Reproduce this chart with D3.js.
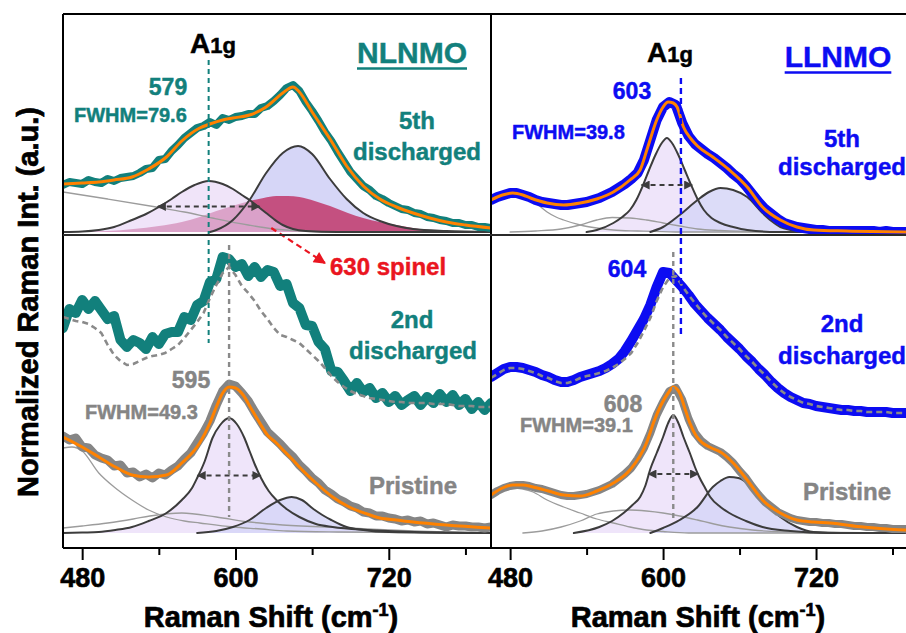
<!DOCTYPE html>
<html><head><meta charset="utf-8">
<script src="https://cdn.jsdelivr.net/npm/d3@7"></script>
<style>
html,body{margin:0;padding:0;background:#fff;}
svg{display:block;font-family:"Liberation Sans",Arial,Helvetica,sans-serif;font-weight:bold;}
</style></head><body>
<svg id="chart" width="906" height="633"></svg>
<script>
// ---------- data ----------
const xDomain = [465, 800];
const majorTicks = [480, 600, 720];
const minorTicks = [540, 660, 780];

// Raman shift grid of the measured spectra (cm-1)
const shift = [465,470,475,480,485,490,495,500,505,510,
  515,520,525,530,535,540,545,550,555,560,
  565,570,575,580,585,590,595,600,605,610,
  615,620,625,630,635,640,645,650,655,660,
  665,670,675,680,685,690,695,700,705,710,
  715,720,725,730,735,740,745,750,755,760,
  765,770,775,780,785,790,795,800];

// NLNMO, 5th discharged (measured)
const nl5th = [.47,.50,.49,.48,.52,.50,.49,.53,.51,.54,
  .55,.56,.59,.63,.64,.72,.73,.81,.87,.94,
  .99,1.04,1.06,1.10,1.07,1.14,1.12,1.15,1.16,1.18,
  1.18,1.24,1.26,1.31,1.37,1.44,1.47,1.41,1.30,1.21,
  1.11,1.00,.91,.80,.70,.60,.53,.46,.42,.36,
  .33,.29,.26,.23,.22,.19,.18,.15,.14,.12,
  .11,.09,.09,.07,.07,.05,.05,.04];
// NLNMO, 2nd discharged (measured) and its reference trace
const nl2nd = [2.05,2.24,2.20,2.33,2.24,2.32,2.23,2.14,2.17,1.93,
  1.86,1.93,1.90,1.84,1.96,1.89,1.99,2.01,2.01,2.16,
  2.13,2.28,2.32,2.51,2.54,2.76,2.74,2.66,2.69,2.57,
  2.66,2.56,2.63,2.61,2.47,2.49,2.30,2.25,2.08,2.07,
  1.91,1.84,1.62,1.61,1.52,1.42,1.50,1.41,1.45,1.35,
  1.40,1.31,1.37,1.28,1.33,1.37,1.28,1.36,1.30,1.39,
  1.31,1.38,1.28,1.34,1.24,1.31,1.23,1.30];
const nl2ndRef = [2.16,2.14,2.12,2.11,2.09,2.05,2.00,1.88,1.78,1.72,
  1.68,1.69,1.72,1.75,1.77,1.78,1.80,1.84,1.88,1.95,
  2.03,2.11,2.20,2.35,2.48,2.60,2.66,2.58,2.47,2.40,
  2.32,2.22,2.14,2.05,1.98,1.96,1.93,1.90,1.84,1.78,
  1.72,1.65,1.57,1.51,1.46,1.42,1.39,1.37,1.35,1.34,
  1.33,1.32,1.31,1.31,1.30,1.30,1.30,1.30,1.29,1.29,
  1.29,1.28,1.27,1.27,1.27,1.26,1.26,1.26];
// NLNMO, pristine (measured)
const nlPristine = [.97,.93,.95,.86,.85,.78,.75,.73,.67,.68,
  .60,.61,.56,.59,.55,.60,.58,.63,.67,.74,
  .80,.90,1.00,1.12,1.28,1.42,1.49,1.47,1.40,1.32,
  1.21,1.11,1.01,.95,.89,.82,.76,.68,.62,.55,
  .50,.43,.39,.34,.31,.27,.25,.21,.20,.17,
  .17,.15,.14,.12,.13,.11,.12,.09,.10,.08,
  .06,.08,.07,.07,.06,.06,.05,.06];

// LLNMO, 5th discharged (measured)
const ll5th = [.32,.35,.37,.39,.39,.37,.35,.32,.30,.29,
  .28,.27,.27,.28,.29,.30,.32,.34,.37,.40,
  .44,.48,.53,.59,.72,.92,1.12,1.25,1.30,1.27,
  1.09,.96,.88,.83,.78,.74,.69,.64,.58,.53,
  .46,.38,.30,.23,.18,.13,.09,.07,.05,.04,
  .03,.02,.02,.01,.01,.01,.01,.01,.01,.01,
  .01,0,.01,0,0,0,0,0];
// LLNMO, 2nd discharged (measured) and its reference trace
const ll2nd = [1.56,1.60,1.64,1.66,1.66,1.65,1.63,1.61,1.58,1.56,
  1.53,1.51,1.51,1.53,1.56,1.58,1.60,1.62,1.65,1.69,
  1.74,1.82,1.92,2.03,2.14,2.28,2.46,2.61,2.60,2.53,
  2.46,2.38,2.29,2.22,2.15,2.09,2.03,1.96,1.90,1.84,
  1.77,1.71,1.64,1.58,1.51,1.45,1.40,1.36,1.33,1.30,
  1.29,1.27,1.26,1.25,1.24,1.23,1.23,1.22,1.22,1.21,
  1.21,1.21,1.21,1.20,1.20,1.20,1.20,1.20];
const ll2ndRef = [1.55,1.59,1.63,1.65,1.65,1.64,1.62,1.60,1.57,1.55,
  1.52,1.50,1.50,1.52,1.55,1.57,1.58,1.60,1.62,1.65,
  1.69,1.74,1.80,1.90,2.02,2.15,2.32,2.46,2.55,2.57,
  2.47,2.38,2.30,2.22,2.15,2.09,2.03,1.96,1.90,1.84,
  1.77,1.71,1.64,1.58,1.51,1.45,1.40,1.36,1.33,1.30,
  1.29,1.27,1.26,1.25,1.24,1.23,1.23,1.22,1.22,1.21,
  1.21,1.21,1.21,1.20,1.20,1.20,1.20,1.20];
// LLNMO, pristine (measured)
const llPristine = [.38,.42,.45,.47,.48,.48,.47,.45,.44,.42,
  .40,.38,.37,.37,.38,.39,.41,.43,.46,.49,
  .54,.59,.65,.74,.85,1.00,1.18,1.31,1.42,1.45,
  1.33,1.14,1.00,.92,.87,.84,.81,.76,.70,.62,
  .55,.46,.38,.31,.26,.21,.18,.15,.13,.12,
  .11,.11,.10,.10,.09,.09,.08,.07,.07,.06,
  .06,.05,.05,.04,.04,.04,.03,.03];

// Fitted envelopes [shift, intensity]
const nl5thFit = [[465,.48],[480,.49],[493,.50],[505,.52],[519,.55],[532,.63],[546,.75],[558,.91],[572,1.04],[580,1.08],[590,1.12],[598,1.14],[611,1.17],[624,1.25],[637,1.39],[645,1.45],[650,1.40],[660,1.20],[674,.93],[687,.66],[700,.46],[713,.33],[726,.25],[739,.19],[752,.14],[765,.10],[780,.07],[800,.04]];
const nlPristineFit = [[465,.96],[480,.86],[493,.76],[506,.66],[519,.58],[532,.56],[546,.58],[558,.70],[572,.90],[580,1.10],[585,1.26],[590,1.40],[595,1.46],[600,1.45],[606,1.38],[612,1.25],[619,1.10],[625,.98],[632,.90],[638,.82],[645,.73],[650,.66],[663,.50],[676,.36],[689,.26],[703,.19],[713,.15],[726,.13],[739,.11],[765,.08],[800,.05]];
const ll5thFit = [[465,.32],[474,.37],[482,.39],[490,.37],[496,.34],[509,.29],[522,.27],[535,.29],[548,.33],[561,.40],[574,.52],[582,.62],[588,.85],[595,1.12],[600,1.25],[604,1.30],[608,1.29],[611,1.25],[616,1.05],[622,.93],[627,.86],[639,.75],[652,.62],[666,.45],[678,.25],[692,.12],[705,.05],[718,.02],[744,.01],[800,0]];
const llPristineFit = [[465,.38],[474,.45],[482,.48],[490,.48],[498,.46],[510,.42],[522,.38],[535,.37],[548,.42],[561,.50],[574,.63],[587,.90],[593,1.12],[598,1.27],[604,1.40],[608,1.46],[613,1.40],[617,1.25],[621,1.10],[626,.97],[631,.90],[638,.85],[645,.81],[655,.70],[666,.53],[678,.33],[692,.20],[705,.13],[718,.11],[731,.10],[757,.06],[790,.03],[800,.03]];

// Fitted components [shift, intensity]
const nl5thBg = [[465,.40],[500,.33],[538,.25],[560,.20],[582,.14],[610,.07],[630,.03],[650,.01],[680,0],[800,0]];
const nl5thA1g = [[465,0],[480,.005],[493,.02],[505,.05],[519,.12],[530,.18],[540,.25],[550,.33],[558,.40],[568,.47],[579,.51],[590,.48],[598,.43],[605,.37],[611,.32],[618,.25],[624,.19],[630,.13],[637,.07],[645,.03],[655,.01],[680,0],[800,0]];
const nl5thHigh = [[580,0],[585,.02],[598,.12],[611,.32],[624,.59],[637,.79],[649,.86],[660,.78],[674,.53],[687,.33],[700,.19],[713,.11],[726,.06],[739,.03],[765,.01],[800,0]];
const nl5thSpinel = [[465,0],[480,.003],[500,.01],[520,.03],[540,.06],[558,.10],[572,.15],[585,.21],[600,.27],[611,.31],[622,.34],[632,.36],[641,.36],[650,.35],[662,.31],[674,.26],[688,.19],[700,.14],[713,.10],[726,.07],[739,.04],[752,.02],[770,.01],[800,0]];

const nlPrBg1 = [[465,.85],[472,.86],[480,.82],[493,.60],[505,.46],[519,.33],[532,.23],[546,.16],[560,.12],[572,.10],[598,.06],[620,.04],[640,.02],[680,.01],[800,0]];
const nlPrBg2 = [[465,.05],[480,.07],[500,.10],[520,.14],[533,.17],[558,.20],[585,.16],[611,.11],[637,.08],[689,.05],[740,.02],[800,0]];
const nlPrA1g = [[465,0],[480,.005],[493,.01],[506,.03],[519,.06],[532,.12],[546,.20],[558,.33],[566,.45],[570,.55],[576,.72],[582,.95],[588,1.08],[595,1.15],[601,1.09],[607,.95],[611,.82],[615,.69],[620,.55],[626,.42],[632,.33],[640,.24],[650,.16],[663,.09],[676,.06],[703,.03],[740,.01],[800,0]];
const nlPrHigh = [[570,0],[585,.02],[598,.06],[611,.13],[624,.25],[635,.33],[644,.36],[652,.33],[661,.24],[668,.18],[675,.13],[687,.06],[700,.03],[720,.01],[800,0]];

const ll5thBg1 = [[465,.31],[475,.35],[483,.37],[490,.36],[497,.32],[503,.26],[509,.20],[516,.15],[522,.12],[535,.07],[548,.04],[561,.02],[580,.01],[610,0],[800,0]];
const ll5thBg2 = [[480,0],[500,.01],[520,.03],[535,.07],[548,.12],[560,.145],[574,.14],[587,.12],[600,.09],[613,.06],[627,.03],[645,.015],[670,.005],[800,0]];
const ll5thA1g = [[540,0],[548,.02],[561,.09],[568,.15],[574,.22],[579,.32],[584,.46],[589,.62],[594,.77],[599,.89],[603,.94],[607,.89],[612,.77],[617,.62],[622,.47],[627,.33],[632,.22],[638,.14],[645,.09],[655,.05],[666,.02],[690,0],[800,0]];
const ll5thHigh = [[590,0],[600,.05],[613,.17],[627,.32],[636,.40],[645,.44],[655,.42],[666,.35],[678,.19],[685,.11],[692,.05],[700,.02],[710,0],[800,0]];

const llPrBg1 = [[465,.36],[475,.43],[482,.45],[490,.44],[498,.41],[509,.33],[522,.26],[535,.20],[548,.14],[561,.10],[574,.06],[587,.03],[600,.015],[620,0],[800,0]];
const llPrBg2 = [[490,0],[505,.02],[520,.06],[535,.12],[548,.19],[561,.22],[574,.23],[587,.22],[600,.20],[613,.17],[627,.13],[640,.09],[652,.06],[670,.03],[700,.01],[800,0]];
const llPrA1g = [[530,0],[550,.06],[560,.12],[569,.20],[576,.28],[582,.36],[586,.47],[590,.64],[595,.80],[600,.96],[604,1.10],[608,1.18],[612,1.10],[616,.96],[621,.80],[625,.66],[628,.57],[633,.45],[637,.36],[645,.26],[652,.20],[665,.12],[678,.06],[700,.02],[730,0],[800,0]];
const llPrHigh = [[590,0],[600,.05],[613,.13],[627,.26],[639,.46],[645,.52],[652,.56],[659,.55],[666,.50],[678,.33],[692,.16],[705,.06],[718,.01],[740,0],[800,0]];

// A1g peak positions and widths (cm-1)
const nl5thPeak = {pos: 579, fwhm: 79.6};
const nlPrPeak  = {pos: 595, fwhm: 49.3};
const ll5thPeak = {pos: 603, fwhm: 39.8};
const ll2ndPeak = {pos: 604};
const llPrPeak  = {pos: 608, fwhm: 39.1};
const ll5thMarker = 614;
const spinelPos = 630;

// ---------- drawing ----------
const svg = d3.select('#chart');
const defs = svg.append('defs');
const F = {left: 63, mid: 491, right: 918, top: 14, split: 235, bottom: 548};

const xL = d3.scaleLinear().domain(xDomain).range([F.left, F.mid]);
const xR = d3.scaleLinear().domain(xDomain).range([F.mid, F.right]);
const yTop = d3.scaleLinear().domain([0, 1]).range([232, 132]);
const yBot = d3.scaleLinear().domain([0, 1]).range([533, 433]);

const C = {
  teal: '#12807c', blue: '#0c0cf2', orange: '#ff8200', gray: '#858585',
  comp: '#3c3c3c', thin: '#9c9c9c', fillA: '#efe5fa', fillB: '#d6d6f7',
  red: '#ea1520'
};

function clipRect(id, x0, y0, x1, y1) {
  defs.append('clipPath').attr('id', id).append('rect')
    .attr('x', x0).attr('y', y0).attr('width', x1 - x0).attr('height', y1 - y0);
}
clipRect('cTL', F.left, F.top, F.mid, F.split);
clipRect('cBL', F.left, F.split, F.mid, F.bottom);
clipRect('cTR', F.mid, F.top, F.right, F.split);
clipRect('cBR', F.mid, F.split, F.right, F.bottom);

function marker(id, color, w, h) {
  defs.append('marker').attr('id', id).attr('viewBox', '0 0 10 10')
    .attr('refX', 9).attr('refY', 5).attr('markerWidth', w).attr('markerHeight', h)
    .attr('markerUnits', 'userSpaceOnUse').attr('orient', 'auto-start-reverse')
    .append('path').attr('d', 'M0,0L10,5L0,10Z').attr('fill', color).attr('stroke', 'none');
}
marker('headDk', C.comp, 11, 9);
marker('headRed', C.red, 14, 12);

const onGrid = vals => shift.map((s, i) => [s, vals[i]]);

function fillArea(g, x, y, pts, fill, op) {
  g.append('path').datum(pts)
    .attr('d', d3.area().x(d => x(d[0])).y0(y(0)).y1(d => y(d[1])).curve(d3.curveMonotoneX))
    .attr('fill', fill).attr('fill-opacity', op).attr('stroke', 'none');
}
function curve(g, x, y, pts, stroke, width, extra = {}) {
  const p = g.append('path').datum(pts)
    .attr('d', d3.line().x(d => x(d[0])).y(d => y(d[1])).curve(extra.curve || d3.curveMonotoneX))
    .attr('fill', 'none').attr('stroke', stroke).attr('stroke-width', width)
    .attr('stroke-linejoin', 'round').attr('stroke-linecap', 'round');
  if (extra.dash) p.attr('stroke-dasharray', extra.dash).attr('stroke-linecap', 'butt');
  return p;
}
function fwhmArrow(g, x, y, peak, comp) {
  const h = d3.max(comp, d => d[1]) / 2;
  g.append('line')
    .attr('x1', x(peak.pos - peak.fwhm / 2)).attr('x2', x(peak.pos + peak.fwhm / 2))
    .attr('y1', y(h)).attr('y2', y(h))
    .attr('stroke', C.comp).attr('stroke-width', 2.2).attr('stroke-dasharray', '5,4')
    .attr('marker-start', 'url(#headDk)').attr('marker-end', 'url(#headDk)');
}
function measured(g, x, y, vals, color, width) {
  curve(g, x, y, onGrid(vals), color, width, {curve: d3.curveLinear});
}

// ---- NLNMO, 5th discharged ----
const gTL = svg.append('g').attr('clip-path', 'url(#cTL)');
fillArea(gTL, xL, yTop, nl5thHigh, C.fillB, 1);
fillArea(gTL, xL, yTop, nl5thSpinel, '#c23d6f', 0.88);
fillArea(gTL, xL, yTop, nl5thA1g, '#e6d3f6', 0.62);
curve(gTL, xL, yTop, nl5thBg, C.thin, 1.3);
curve(gTL, xL, yTop, nl5thA1g, C.comp, 2);
curve(gTL, xL, yTop, nl5thHigh, C.comp, 2);
fwhmArrow(gTL, xL, yTop, nl5thPeak, nl5thA1g);
measured(gTL, xL, yTop, nl5th, C.teal, 8);
curve(gTL, xL, yTop, nl5thFit, C.orange, 3);

// ---- NLNMO, 2nd discharged + pristine ----
const gBL = svg.append('g').attr('clip-path', 'url(#cBL)');
fillArea(gBL, xL, yBot, nlPrA1g, C.fillA, 1);
fillArea(gBL, xL, yBot, nlPrHigh, C.fillB, 0.85);
curve(gBL, xL, yBot, nlPrBg1, C.thin, 1.3);
curve(gBL, xL, yBot, nlPrBg2, C.thin, 1.3);
curve(gBL, xL, yBot, nlPrA1g, C.comp, 2);
curve(gBL, xL, yBot, nlPrHigh, C.comp, 2);
fwhmArrow(gBL, xL, yBot, nlPrPeak, nlPrA1g);
measured(gBL, xL, yBot, nl2nd, C.teal, 10);
curve(gBL, xL, yBot, onGrid(nl2ndRef), '#8a8a8a', 2.6, {dash: '6,4', curve: d3.curveLinear});
svg.append('line').attr('x1', xL(nlPrPeak.pos)).attr('x2', xL(nlPrPeak.pos))
  .attr('y1', yBot(2.88)).attr('y2', yBot(0.16))
  .attr('stroke', '#8a8a8a').attr('stroke-width', 2.4).attr('stroke-dasharray', '5,4');
measured(gBL, xL, yBot, nlPristine, C.gray, 9);
curve(gBL, xL, yBot, nlPristineFit, C.orange, 3);

// ---- LLNMO, 5th discharged ----
const gTR = svg.append('g').attr('clip-path', 'url(#cTR)');
fillArea(gTR, xR, yTop, ll5thA1g, C.fillA, 1);
fillArea(gTR, xR, yTop, ll5thHigh, C.fillB, 0.85);
curve(gTR, xR, yTop, ll5thBg1, C.thin, 1.3);
curve(gTR, xR, yTop, ll5thBg2, C.thin, 1.3);
curve(gTR, xR, yTop, ll5thA1g, C.comp, 2);
curve(gTR, xR, yTop, ll5thHigh, C.comp, 2);
fwhmArrow(gTR, xR, yTop, ll5thPeak, ll5thA1g);
measured(gTR, xR, yTop, ll5th, C.blue, 10);
curve(gTR, xR, yTop, ll5thFit, C.orange, 3);

// ---- LLNMO, 2nd discharged + pristine ----
const gBR = svg.append('g').attr('clip-path', 'url(#cBR)');
fillArea(gBR, xR, yBot, llPrA1g, C.fillA, 1);
fillArea(gBR, xR, yBot, llPrHigh, C.fillB, 0.85);
curve(gBR, xR, yBot, llPrBg1, C.thin, 1.3);
curve(gBR, xR, yBot, llPrBg2, C.thin, 1.3);
curve(gBR, xR, yBot, llPrA1g, C.comp, 2);
curve(gBR, xR, yBot, llPrHigh, C.comp, 2);
fwhmArrow(gBR, xR, yBot, llPrPeak, llPrA1g);
measured(gBR, xR, yBot, ll2nd, C.blue, 10);
curve(gBR, xR, yBot, onGrid(ll2ndRef), '#8a8a8a', 2.6, {dash: '6,4', curve: d3.curveLinear});
svg.append('line').attr('x1', xR(llPrPeak.pos)).attr('x2', xR(llPrPeak.pos))
  .attr('y1', yBot(2.81)).attr('y2', yBot(0.11))
  .attr('stroke', '#8a8a8a').attr('stroke-width', 2.4).attr('stroke-dasharray', '5,4');
measured(gBR, xR, yBot, llPristine, C.gray, 8);
curve(gBR, xR, yBot, llPristineFit, C.orange, 3);

// ---- A1g guide lines ----
svg.append('line').attr('x1', xL(nl5thPeak.pos)).attr('x2', xL(nl5thPeak.pos))
  .attr('y1', yTop(1.72)).attr('y2', yBot(1.90))
  .attr('stroke', C.teal).attr('stroke-width', 2).attr('stroke-dasharray', '5,4');
svg.append('line').attr('x1', xR(ll5thMarker)).attr('x2', xR(ll5thMarker))
  .attr('y1', yTop(1.54)).attr('y2', yBot(1.96))
  .attr('stroke', C.blue).attr('stroke-width', 2.4).attr('stroke-dasharray', '6,4');

// ---- spinel pointer ----
svg.append('line').attr('x1', xL(spinelPos - 2)).attr('y1', yTop(0.04))
  .attr('x2', xL(spinelPos + 40)).attr('y2', yBot(2.70))
  .attr('stroke', C.red).attr('stroke-width', 2.2).attr('stroke-dasharray', '6,4')
  .attr('marker-end', 'url(#headRed)');

// ---- frame ----
const frame = svg.append('g').attr('stroke', '#000').attr('stroke-width', 2);
frame.append('line').attr('x1', F.left).attr('x2', F.right).attr('y1', F.top).attr('y2', F.top);
frame.append('line').attr('x1', F.left).attr('x2', F.right).attr('y1', F.bottom).attr('y2', F.bottom);
frame.append('line').attr('x1', F.left).attr('x2', F.left).attr('y1', F.top).attr('y2', F.bottom);
frame.append('line').attr('x1', F.mid).attr('x2', F.mid).attr('y1', F.top).attr('y2', F.bottom);
frame.append('line').attr('x1', F.left).attr('x2', F.right).attr('y1', F.split).attr('y2', F.split).attr('stroke', '#2a2a2a');

// ---- axes ----
function xAxis(x) {
  const major = svg.append('g').attr('transform', `translate(0,${F.bottom})`)
    .call(d3.axisBottom(x).tickValues(majorTicks).tickSize(12).tickPadding(8).tickFormat(d3.format('d')));
  major.select('.domain').remove();
  major.selectAll('line').attr('stroke', '#000').attr('stroke-width', 2);
  major.selectAll('text').attr('font-size', 27).attr('font-weight', 'bold')
    .attr('font-family', '"Liberation Sans",Arial,sans-serif').attr('fill', '#000')
    .attr('stroke', '#000').attr('stroke-width', 0.6);
  const minor = svg.append('g').attr('transform', `translate(0,${F.bottom})`)
    .call(d3.axisBottom(x).tickValues(minorTicks).tickSize(7).tickFormat(''));
  minor.select('.domain').remove();
  minor.selectAll('line').attr('stroke', '#000').attr('stroke-width', 2);
}
xAxis(xL);
xAxis(xR);

function axisTitle(cx) {
  const t = svg.append('text').attr('x', cx).attr('y', 627).attr('text-anchor', 'middle')
    .attr('font-size', 29).attr('fill', '#000').attr('stroke', '#000').attr('stroke-width', 0.7);
  t.append('tspan').text('Raman Shift (cm');
  t.append('tspan').attr('dy', -11).attr('font-size', 18).text('-1');
  t.append('tspan').attr('dy', 11).text(')');
}
axisTitle(271);
axisTitle(698);

svg.append('text').attr('transform', 'translate(38,302) rotate(-90)')
  .attr('text-anchor', 'middle').attr('font-size', 29).attr('fill', '#000')
  .attr('stroke', '#000').attr('stroke-width', 0.7)
  .text('Normalized Raman Int. (a.u.)');

// ---- annotations ----
function label(x, y, str, size, fill, anchor = 'start') {
  return svg.append('text').attr('x', x).attr('y', y).attr('text-anchor', anchor)
    .attr('font-size', size).attr('fill', fill)
    .attr('stroke', fill).attr('stroke-width', 0.45).text(str);
}
function a1g(x, y) {
  const t = svg.append('text').attr('x', x).attr('y', y).attr('fill', '#000')
    .attr('stroke', '#000').attr('stroke-width', 0.5);
  t.append('tspan').attr('font-size', 28).text('A');
  t.append('tspan').attr('font-size', 22).text('1g');
}
function underlined(cx, y, str, size, fill) {
  const t = label(cx, y, str, size, fill, 'middle');
  const b = t.node().getBBox();
  svg.append('line').attr('x1', b.x).attr('x2', b.x + b.width)
    .attr('y1', y + 5.5).attr('y2', y + 5.5).attr('stroke', fill).attr('stroke-width', 2.5);
}

a1g(190, 53);
label(168, 95, String(nl5thPeak.pos), 23, C.teal, 'middle');
label(74, 122, 'FWHM=' + nl5thPeak.fwhm.toFixed(1), 20, C.teal);
underlined(412, 63, 'NLNMO', 30, C.teal);
label(417, 129, '5th', 24, C.teal, 'middle');
label(417, 160, 'discharged', 24, C.teal, 'middle');

label(330, 275, spinelPos + ' spinel', 24, C.red);
label(412, 328, '2nd', 24, C.teal, 'middle');
label(413, 359, 'discharged', 24, C.teal, 'middle');
label(191, 388, String(nlPrPeak.pos), 23, C.gray, 'middle');
label(85, 419, 'FWHM=' + nlPrPeak.fwhm.toFixed(1), 20, C.gray);
label(413, 494, 'Pristine', 24, C.gray, 'middle');

a1g(647, 62);
label(632, 99, String(ll5thPeak.pos), 23, C.blue, 'middle');
label(512, 139, 'FWHM=' + ll5thPeak.fwhm.toFixed(1), 20, C.blue);
underlined(838, 67, 'LLNMO', 30, C.blue);
label(842, 147, '5th', 24, C.blue, 'middle');
label(842, 175, 'discharged', 24, C.blue, 'middle');

label(627, 277, String(ll2ndPeak.pos), 23, C.blue, 'middle');
label(842, 332, '2nd', 24, C.blue, 'middle');
label(842, 364, 'discharged', 24, C.blue, 'middle');
label(623, 412, String(llPrPeak.pos), 23, C.gray, 'middle');
label(520, 432, 'FWHM=' + llPrPeak.fwhm.toFixed(1), 20, C.gray);
label(847, 500, 'Pristine', 24, C.gray, 'middle');
</script>
</body></html>
